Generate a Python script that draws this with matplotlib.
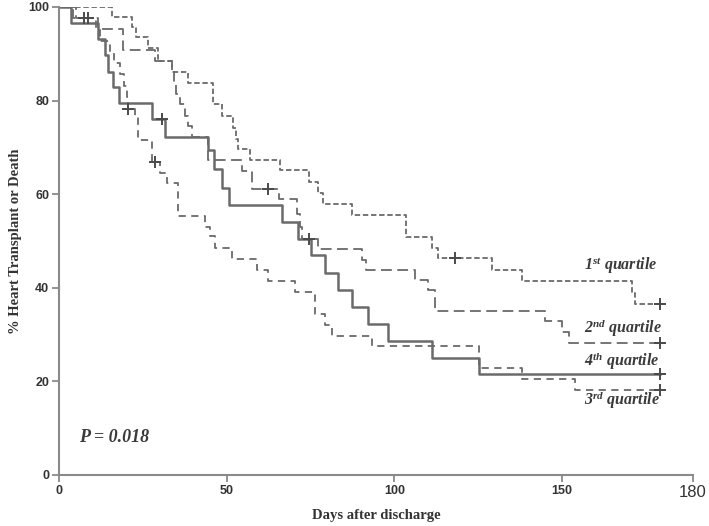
import numpy as np
import matplotlib
matplotlib.use('Agg')
import matplotlib.pyplot as plt

# Kaplan-Meier steps (days, % heart transplant or death)
q1_t = [0, 15.7, 21.7, 23.0, 26.6, 29.6, 33.6, 38.6, 46.0, 48.7, 52.0, 52.8, 53.5, 57.0,
        65.8, 74.4, 77.3, 78.8, 87.5, 103.4, 111.1, 113.1, 129.1, 138.0, 170.8, 171.8, 179.2]
q1_v = [100, 97.9, 95.8, 93.5, 91.2, 88.4, 86.1, 83.7, 79.2, 76.7, 74.2, 71.8, 69.6, 67.4,
        65.1, 62.6, 60.3, 58.0, 55.6, 50.9, 48.6, 46.3, 43.9, 41.4, 38.9, 36.5, 36.5]
q1_cens_t = [118.1, 179.2]
q1_cens_v = [46.3, 36.5]

q2_t = [0, 4.3, 11.7, 19.2, 28.6, 33.6, 34.2, 35.0, 36.0, 37.5, 38.6, 39.6, 44.5, 54.5,
        57.5, 65.5, 70.9, 71.8, 72.4, 77.3, 90.3, 91.5, 106.2, 110.0, 112.0, 145.0,
        150.0, 152.2, 179.2]
q2_v = [100, 97.7, 95.4, 90.8, 88.5, 86.1, 83.8, 81.5, 79.2, 76.8, 74.5, 72.2, 67.3, 65.0,
        61.1, 58.9, 55.7, 52.9, 50.4, 48.2, 46.0, 43.7, 41.6, 39.5, 35.0, 32.8,
        30.6, 28.3, 28.3]
q2_cens_t = [7.5, 62.4, 74.4, 179.2]
q2_cens_v = [97.7, 61.1, 50.4, 28.3]

q3_t = [0, 5.0, 11.0, 12.2, 15.2, 16.5, 18.2, 19.5, 20.2, 20.5, 22.7, 23.7, 27.6, 30.1,
        32.1, 35.6, 43.5, 45.0, 46.5, 51.5, 59.0, 62.4, 70.4, 76.3, 79.3, 81.3, 93.3,
        125.1, 138.0, 153.9, 179.2]
q3_v = [100, 97.6, 95.2, 92.8, 90.4, 88.0, 85.6, 83.2, 80.8, 78.3, 76.8, 71.5, 66.8, 64.5,
        62.3, 55.4, 52.9, 51.1, 48.6, 46.1, 43.7, 41.4, 39.1, 34.3, 32.1, 29.8, 27.6,
        22.8, 20.5, 18.2, 18.2]
q3_cens_t = [8.7, 20.7, 28.6, 179.2]
q3_cens_v = [97.6, 78.3, 66.8, 18.2]

q4_t = [0, 3.6, 11.7, 13.7, 14.6, 16.2, 17.9, 27.6, 31.5, 44.3, 46.3, 48.5, 50.7, 66.4,
        71.3, 75.2, 79.2, 83.3, 87.3, 92.1, 98.2, 111.1, 125.1, 179.2]
q4_v = [100, 96.6, 93.1, 89.7, 86.2, 82.8, 79.4, 76.0, 72.3, 69.5, 65.3, 61.4, 57.7, 54.1,
        50.4, 46.9, 43.2, 39.6, 35.8, 32.3, 28.6, 25.0, 21.6, 21.6]
q4_cens_t = [30.6, 179.2]
q4_cens_v = [76.0, 21.6]

labels = ['1$^{\\rm st}$ quartile', '2$^{\\rm nd}$ quartile', '3$^{\\rm rd}$ quartile', '4$^{\\rm th}$ quartile']
label_pos = [(156.5, 44.8), (156.5, 31.4), (156.5, 16.0), (156.5, 24.4)]

xtick_vals = [0, 50, 100, 150]
ytick_vals = [0, 20, 40, 60, 80, 100]
x_end = 189
x_end_label = '180'
p_text = 'P = 0.018'

plt.rcParams['mathtext.fontset'] = 'custom'
plt.rcParams['mathtext.rm'] = 'Liberation Serif:bold:italic'
plt.rcParams['mathtext.it'] = 'Liberation Serif:bold:italic'
plt.rcParams['mathtext.bf'] = 'Liberation Serif:bold:italic'

fig = plt.figure(figsize=(7.09, 5.26), dpi=100)
ax = fig.add_axes([0.0832, 0.097, 0.894, 0.8897])

col = '#6a6a6a'
ax.step(q1_t, q1_v, where='post', color=col, lw=1.3, dashes=(3, 1.5))
ax.step(q2_t, q2_v, where='post', color=col, lw=1.3, dashes=(6, 3))
ax.step(q3_t, q3_v, where='post', color=col, lw=1.3, dashes=(4, 3))
ax.step(q4_t, q4_v, where='post', color=col, lw=1.8)

for ct, cv in [(q1_cens_t, q1_cens_v), (q2_cens_t, q2_cens_v),
               (q3_cens_t, q3_cens_v), (q4_cens_t, q4_cens_v)]:
    ax.plot(ct, cv, ls='none', marker='+', ms=9, mew=1.4, color='#4a4a4a')

for lab, (lx, ly) in zip(labels, label_pos):
    ax.text(lx, ly, lab, fontsize=11.5, color='#3a3a3a', va='center', ha='left',
            family='Liberation Serif', weight='bold', style='italic')

ax.text(6, 8, p_text, fontsize=13, color='#3a3a3a', va='center', ha='left',
        family='Liberation Serif', weight='bold', style='italic')

ax.set_xlim(0, x_end)
ax.set_ylim(0, 100)
ax.set_xticks(xtick_vals + [x_end])
ax.set_xticklabels([str(v) for v in xtick_vals] + [x_end_label])
ax.set_yticks(ytick_vals)
ax.set_yticklabels([str(v) for v in ytick_vals])

for lab in ax.get_xticklabels() + ax.get_yticklabels():
    lab.set_family('Liberation Sans')
    lab.set_fontsize(9)
    lab.set_color('#333333')
    lab.set_weight('bold')
end_lab = ax.get_xticklabels()[-1]
end_lab.set_weight('normal')
end_lab.set_fontsize(12)
end_lab.set_color('#555555')

for s in ['top', 'right']:
    ax.spines[s].set_visible(False)
for s in ['left', 'bottom']:
    ax.spines[s].set_color('#8a8a8a')
    ax.spines[s].set_linewidth(1.5)
ax.tick_params(colors='#8a8a8a', length=5, width=1.3, direction='out', pad=2)
ax.tick_params(axis='both', labelcolor='#333333')

ax.set_xlabel('Days after discharge', family='Liberation Serif', weight='bold',
              fontsize=10.5, color='#333333')
ax.set_ylabel('% Heart Transplant or Death', family='Liberation Serif', weight='bold',
              fontsize=10.5, color='#333333')
ax.xaxis.set_label_coords(0.5, -0.072)
ax.yaxis.set_label_coords(-0.058, 0.5)

fig.savefig('out.png', dpi=100)
